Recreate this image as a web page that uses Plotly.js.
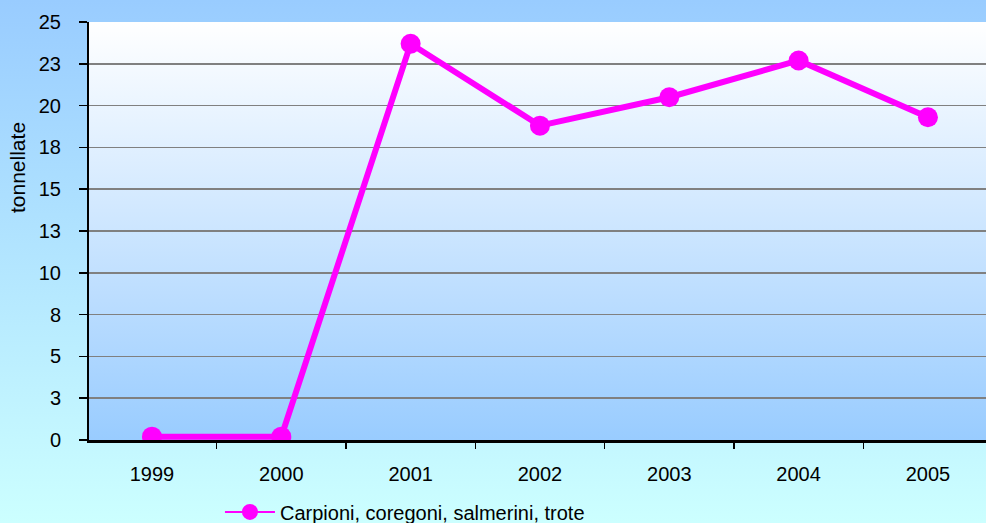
<!DOCTYPE html>
<html>
<head>
<meta charset="utf-8">
<script src="https://cdn.plot.ly/plotly-3.0.1.min.js"></script>
<style>
  html, body { margin: 0; padding: 0; }
  #chart { width: 986px; height: 523px; background: linear-gradient(to bottom, #99CCFF 0%, #CCFFFF 100%); }
</style>
</head>
<body>
<div id="chart"></div>
<script>
// Data
const years = ['1999', '2000', '2001', '2002', '2003', '2004', '2005'];
const tonnes = [0.2, 0.2, 23.7, 18.8, 20.5, 22.7, 19.3];
const seriesName = 'Carpioni, coregoni, salmerini, trote';
const yTickVals = [0, 2.5, 5, 7.5, 10, 12.5, 15, 17.5, 20, 22.5, 25];
const yTickText = ['0', '3', '5', '8', '10', '13', '15', '18', '20', '23', '25'];
const yTitle = 'tonnellate';

const FONT = '"Liberation Sans", Arial, Helvetica, sans-serif';
const MAGENTA = '#FF00FF';

function gradientSvg(top, bottom) {
  const svg = "<svg xmlns='http://www.w3.org/2000/svg' width='10' height='100' viewBox='0 0 10 100' preserveAspectRatio='none'>" +
    "<defs><linearGradient id='g' x1='0' y1='0' x2='0' y2='1'>" +
    "<stop offset='0' stop-color='" + top + "'/><stop offset='1' stop-color='" + bottom + "'/>" +
    "</linearGradient></defs><rect x='0' y='0' width='10' height='100' fill='url(#g)'/></svg>";
  return 'data:image/svg+xml;charset=utf-8,' + encodeURIComponent(svg);
}

const trace = {
  type: 'scatter',
  mode: 'lines+markers',
  x: years,
  y: tonnes,
  name: seriesName,
  line: { color: MAGENTA, width: 6 },
  marker: { color: MAGENTA, size: 20, symbol: 'circle' },
  showlegend: false,
  hoverinfo: 'x+y'
};

// legend entry (thin line + marker as in the reference legend)
const legendEntry = {
  type: 'scatter',
  mode: 'lines+markers',
  x: [null],
  y: [null],
  name: seriesName,
  line: { color: MAGENTA, width: 2 },
  marker: { color: MAGENTA, size: 16, symbol: 'circle' },
  showlegend: true,
  hoverinfo: 'skip'
};

const layout = {
  width: 986,
  height: 523,
  margin: { l: 89, r: 0, t: 22, b: 83, autoexpand: false },
  paper_bgcolor: 'rgba(0,0,0,0)',
  plot_bgcolor: 'rgba(0,0,0,0)',
  font: { family: FONT, size: 20, color: '#000000' },
  showlegend: true,
  legend: {
    orientation: 'h',
    x: 0.146, xanchor: 'left',
    y: -0.172, yanchor: 'middle',
    bgcolor: 'rgba(0,0,0,0)',
    font: { family: FONT, size: 20, color: '#000000' },
    itemwidth: 50
  },
  xaxis: {
    type: 'category',
    range: [-0.487, 6.449],
    showline: true, linecolor: '#000000', linewidth: 2.5,
    ticks: 'outside', tickson: 'boundaries', ticklen: 6, tickcolor: '#000000', tickwidth: 1.5,
    ticklabelstandoff: 14,
    showgrid: false, zeroline: false,
    tickfont: { family: FONT, size: 20, color: '#000000' }
  },
  yaxis: {
    range: [0, 25],
    tickmode: 'array',
    tickvals: yTickVals,
    ticktext: yTickText,
    showline: true, linecolor: '#000000', linewidth: 2,
    ticks: 'outside', ticklen: 8, tickcolor: '#000000', tickwidth: 1.5,
    ticklabelstandoff: 14,
    showgrid: true, gridcolor: '#808080', gridwidth: 1.5,
    zeroline: false,
    tickfont: { family: FONT, size: 20, color: '#000000' }
  },
  images: [{
    source: gradientSvg('#FFFFFF', '#99CCFF'),
    xref: 'paper', yref: 'paper',
    x: 0, y: 1, sizex: 1, sizey: 1,
    xanchor: 'left', yanchor: 'top',
    sizing: 'stretch', layer: 'below'
  }],
  annotations: [{
    text: yTitle,
    xref: 'paper', yref: 'paper',
    x: -0.079, y: 0.651,
    xanchor: 'center', yanchor: 'middle',
    textangle: -90,
    showarrow: false,
    font: { family: FONT, size: 21, color: '#000000' }
  }]
};

Plotly.newPlot('chart', [trace, legendEntry], layout, { displayModeBar: false, staticPlot: true });
</script>
</body>
</html>
